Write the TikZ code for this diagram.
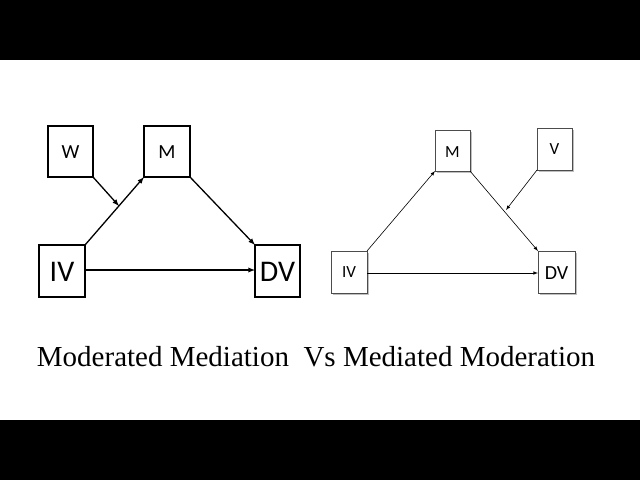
\documentclass[tikz,border=0pt]{standalone}
\usepackage{fontspec}
\setmainfont{Liberation Serif}
\setsansfont{Carlito}
\newcommand{\fs}[1]{\fontsize{#1}{#1}\selectfont}
\begin{document}
\begin{tikzpicture}[x=1pt,y=-1pt,
  lbox/.style={draw,line width=1.2pt,fill=white},
  rbox/.style={draw=black!70,line width=0.8pt,fill=white},
  larr/.style={line width=1.3pt,-latex},
  rarr/.style={line width=0.6pt,-latex}]
\useasboundingbox (0,0) rectangle (640,480);
\fill[black] (0,0) rectangle (640,60);
\fill[black] (0,420) rectangle (640,480);
% left
\draw[lbox] (48,126) rectangle (93,177); \node[font=\sffamily\fs{20}] (W) at (70.5,152) {W};
\draw[lbox] (144,126) rectangle (190,177); \node[font=\sffamily\fs{20}] (M) at (167,152) {M};
\draw[lbox] (39,245) rectangle (85,297); \node[font=\sffamily\fs{30}] (IV) at (62,272) {IV};
\draw[lbox] (255,245) rectangle (300,297); \node[font=\sffamily\fs{30}] (DV) at (277.5,272) {DV};
\coordinate (ivtr) at (85,245); \coordinate (mbl) at (144,177);
\coordinate (mbr) at (190,177); \coordinate (dvtl) at (255,245);
\coordinate (wbr) at (93,177); \coordinate (wend) at (119,206);
\draw[larr] (ivtr) -- (mbl);
\draw[larr] (mbr) -- (dvtl);
\draw[larr] (85,270) -- (255,270);
\draw[larr] (wbr) -- (wend);
% right
\fill[black!25] (437,132) rectangle (472,173);
\fill[black!25] (539,130) rectangle (574,172);
\fill[black!25] (333,253) rectangle (369,295);
\fill[black!25] (540,253) rectangle (577,295);
\draw[rbox] (435,130) rectangle (470,171); \node[font=\sffamily\fs{17}] (M2) at (452.5,152) {M};
\draw[rbox] (537,128) rectangle (572,170); \node[font=\sffamily\fs{17}] (V2) at (554.5,149) {V};
\draw[rbox] (331,251) rectangle (367,293); \node[font=\sffamily\fs{17}] (IV2) at (349,272) {IV};
\draw[rbox] (538,251) rectangle (575,293); \node[font=\sffamily\fs{20}] (DV2) at (556.5,273) {DV};
\draw[rarr] (367,251) -- (435,171);
\draw[rarr] (470,171) -- (538,251);
\draw[rarr] (367,273) -- (538,273);
\draw[rarr] (537,170) -- (506,210);
\node (T) at (316,357) {\fs{29}Moderated Mediation\ \ Vs Mediated Moderation};
\end{tikzpicture}
\end{document}
